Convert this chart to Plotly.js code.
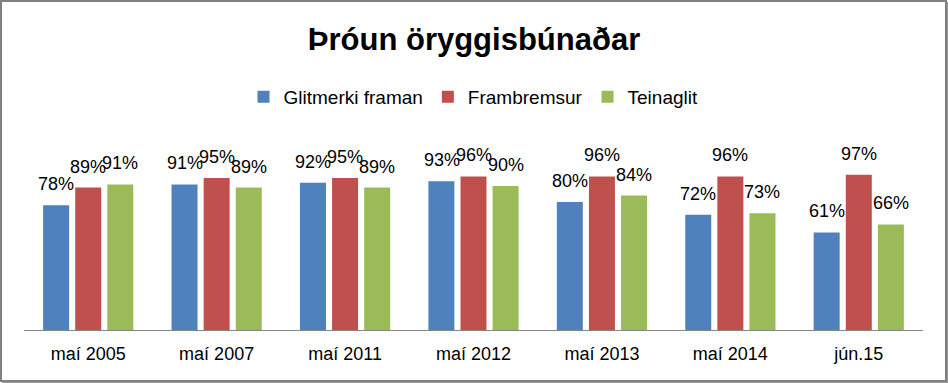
<!DOCTYPE html>
<html>
<head>
<meta charset="utf-8">
<script src="https://cdn.plot.ly/plotly-3.0.1.min.js"></script>
<style>
html,body{margin:0;padding:0;background:#fff;}
#chart{width:948px;height:383px;}
</style>
</head>
<body>
<div id="chart"></div>
<script>
var categories = ["maí 2005", "maí 2007", "maí 2011", "maí 2012", "maí 2013", "maí 2014", "jún.15"];
var seriesNames = ["Glitmerki framan", "Frambremsur", "Teinaglit"];
var glitmerki = [78, 91, 92, 93, 80, 72, 61];
var frambremsur = [89, 95, 95, 96, 96, 96, 97];
var teinaglit = [91, 89, 89, 90, 84, 73, 66];
var colors = ["#4F81BD", "#C0504D", "#9BBB59"];

var W = 948, H = 383;
var mL = 24, mR = 25, mT = 170, mB = 53;
var pw = W - mL - mR, ph = H - mT - mB;
function px(x){ return (x - mL) / pw; }
function py(y){ return (H - mB - y) / ph; }

var allSeries = [glitmerki, frambremsur, teinaglit];
var traces = allSeries.map(function(vals, s){
  return {
    type: "bar",
    name: seriesNames[s],
    x: categories,
    y: vals,
    marker: {color: colors[s]},
    hoverinfo: "skip"
  };
});

var annotations = [];
allSeries.forEach(function(vals, s){
  vals.forEach(function(v, i){
    annotations.push({
      x: categories[i], y: v, xref: "x", yref: "y",
      text: v + "%",
      showarrow: false,
      xanchor: "center", yanchor: "bottom",
      xshift: (s - 1) * 32, yshift: 9,
      font: {family: "Liberation Sans, Arial, sans-serif", size: 18, color: "#000"}
    });
  });
});

var shapes = [
  {type: "rect", xref: "paper", yref: "paper",
   x0: px(1), x1: px(946), y0: py(1), y1: py(381),
   line: {color: "#808080", width: 2}, fillcolor: "rgba(0,0,0,0)", layer: "above"},
  {type: "line", xref: "paper", yref: "paper",
   x0: px(947.5), x1: px(947.5), y0: py(2), y1: py(383),
   line: {color: "#9a9a9a", width: 1}, layer: "above"},
  {type: "line", xref: "paper", yref: "paper",
   x0: px(2), x1: px(948), y0: py(382.5), y1: py(382.5),
   line: {color: "#9a9a9a", width: 1}, layer: "above"}
];

var layout = {
  width: W, height: H,
  margin: {l: mL, r: mR, t: mT, b: mB, pad: 0},
  paper_bgcolor: "#fff", plot_bgcolor: "#fff",
  title: {
    text: "<b>Þróun öryggisbúnaðar</b>",
    font: {family: "Liberation Sans, Arial, sans-serif", size: 31, color: "#000"},
    x: 0.5, xref: "container", xanchor: "center",
    y: 1 - 39 / H, yref: "container", yanchor: "middle"
  },
  showlegend: true,
  legend: {
    orientation: "h", x: 0.5, xanchor: "center",
    y: 1 + (mT - 97) / ph, yanchor: "middle",
    font: {family: "Liberation Sans, Arial, sans-serif", size: 19, color: "#000"},
    itemwidth: 30, tracegroupgap: 0,
    bgcolor: "rgba(0,0,0,0)"
  },
  barmode: "group",
  bargap: 0.25,
  bargroupgap: 0.19,
  xaxis: {
    type: "category",
    showline: true, linecolor: "#868686", linewidth: 1,
    showgrid: false, zeroline: false, ticks: "",
    ticklabelstandoff: 7,
    tickfont: {family: "Liberation Sans, Arial, sans-serif", size: 18, color: "#000"},
    fixedrange: true
  },
  yaxis: {
    range: [0, 100], visible: false, showgrid: false, zeroline: false, fixedrange: true
  },
  annotations: annotations,
  shapes: shapes,
  hovermode: false
};

Plotly.newPlot("chart", traces, layout, {displayModeBar: false, staticPlot: true});
</script>
</body>
</html>
